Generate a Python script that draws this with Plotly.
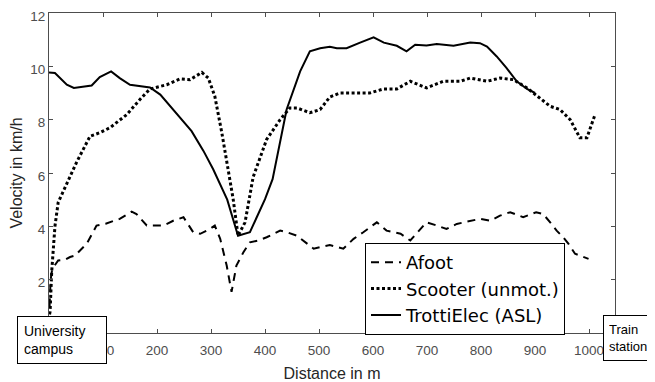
import plotly.graph_objects as go

# ---- data ----
trotti_x = [0, 11, 33, 46, 79, 94, 115, 131, 150, 187, 206, 230, 264, 286, 304, 330, 350, 372, 400, 414, 440, 465, 483, 502, 520, 533, 551, 576, 601, 620, 644, 662, 678, 699, 718, 749, 780, 798, 811, 829, 847, 866, 885, 900]
trotti_y = [9.77, 9.75, 9.31, 9.19, 9.28, 9.6, 9.81, 9.56, 9.31, 9.21, 8.94, 8.38, 7.57, 6.83, 6.14, 5.0, 3.65, 3.78, 5.02, 5.77, 8.38, 9.81, 10.56, 10.68, 10.73, 10.68, 10.68, 10.89, 11.09, 10.89, 10.77, 10.56, 10.81, 10.78, 10.84, 10.77, 10.89, 10.87, 10.74, 10.37, 9.94, 9.44, 9.15, 9.0]

scooter_x = [1, 2, 5, 11, 17, 33, 51, 76, 94, 113, 144, 168, 187, 218, 243, 261, 283, 295, 307, 320, 332, 341, 350, 363, 378, 403, 428, 446, 459, 483, 502, 520, 539, 594, 619, 644, 669, 699, 730, 761, 780, 811, 835, 860, 885, 909, 928, 946, 965, 983, 996, 1011]
scooter_y = [0.7, 0.8, 2.3, 4.0, 4.9, 5.58, 6.4, 7.38, 7.51, 7.7, 8.19, 8.75, 9.15, 9.31, 9.53, 9.5, 9.77, 9.56, 8.88, 7.51, 6.02, 5.02, 3.65, 4.15, 5.85, 7.26, 8.0, 8.44, 8.44, 8.26, 8.38, 8.85, 9.0, 9.0, 9.15, 9.15, 9.44, 9.19, 9.44, 9.44, 9.56, 9.44, 9.56, 9.5, 9.19, 8.82, 8.5, 8.38, 8.0, 7.32, 7.32, 8.19]

afoot_x = [1, 3, 6, 17, 30, 39, 48, 70, 88, 105, 119, 131, 153, 162, 181, 212, 230, 249, 267, 280, 298, 307, 317, 329, 338, 347, 360, 372, 388, 403, 428, 440, 459, 490, 502, 520, 545, 564, 582, 607, 625, 651, 669, 687, 699, 718, 736, 755, 780, 798, 817, 835, 854, 878, 902, 915, 928, 940, 952, 962, 974, 990, 999]
afoot_y = [1.0, 2.0, 2.4, 2.72, 2.75, 2.85, 2.9, 3.35, 4.03, 4.1, 4.2, 4.28, 4.55, 4.46, 4.03, 4.03, 4.21, 4.34, 3.78, 3.72, 3.9, 4.03, 3.53, 2.53, 1.54, 2.53, 3.03, 3.4, 3.47, 3.59, 3.84, 3.78, 3.65, 3.16, 3.22, 3.3, 3.16, 3.53, 3.78, 4.15, 3.84, 3.72, 3.47, 3.9, 4.15, 4.03, 3.9, 4.09, 4.21, 4.28, 4.21, 4.4, 4.53, 4.34, 4.53, 4.46, 4.15, 3.84, 3.59, 3.34, 2.97, 2.85, 2.78]

x_ticks = [100, 200, 300, 400, 500, 600, 700, 800, 900, 1000]
y_ticks = [2, 4, 6, 8, 10, 12]

FONT = "Liberation Sans, Arial, sans-serif"
LEG_FONT = "DejaVu Sans, Liberation Sans, sans-serif"

# page body has an 8px margin: figure occupies (8..655, 8..382) of the window
OFF = 8
W, H = 655 - OFF, 382 - OFF
L, R, T, B = 49 - OFF, 655 - 615, 13 - OFF, 382 - 333
PW, PH = W - L - R, H - T - B


def px_x(p):
    return (p - OFF - L) / PW


def px_y(p):
    return (H - B - (p - OFF)) / PH


fig = go.Figure()
fig.add_trace(go.Scatter(x=afoot_x, y=afoot_y, mode="lines", name="Afoot",
                         line=dict(color="black", width=2, dash="8px,6px")))
fig.add_trace(go.Scatter(x=scooter_x, y=scooter_y, mode="lines", name="Scooter (unmot.)",
                         line=dict(color="black", width=3, dash="3px,2.5px")))
fig.add_trace(go.Scatter(x=trotti_x, y=trotti_y, mode="lines", name="TrottiElec (ASL)",
                         line=dict(color="black", width=2)))

axis_common = dict(showline=True, linecolor="#4d4d4d", linewidth=1, mirror="ticks",
                   ticks="inside", ticklen=4, tickcolor="#4d4d4d", showgrid=False,
                   zeroline=False, automargin=False, ticklabeloverflow="allow",
                   tickfont=dict(family=FONT, size=13.5, color="#4d4d4d"))

fig.update_xaxes(range=[0, 1048], tickvals=x_ticks, ticktext=[str(v) for v in x_ticks],
                 ticklabelstandoff=5,
                 title=dict(text="Distance in m", font=dict(family=FONT, size=16, color="#262626"),
                            standoff=11),
                 **axis_common)
fig.update_yaxes(range=[0, 12], tickvals=y_ticks, ticktext=[str(v) for v in y_ticks],
                 ticklabelshift=3,
                 title=dict(text="Velocity in km/h", font=dict(family=FONT, size=16, color="#262626"),
                            standoff=3),
                 **axis_common)

fig.update_layout(
    template="none",
    width=W, height=H,
    margin=dict(l=L, r=R, t=T, b=B, autoexpand=False),
    plot_bgcolor="white", paper_bgcolor="white",
    font=dict(family=FONT, color="black"),
    showlegend=True,
    legend=dict(x=px_x(365), y=px_y(243), xanchor="left", yanchor="top",
                bgcolor="white", bordercolor="black", borderwidth=1,
                font=dict(family=LEG_FONT, size=18, color="black"),
                tracegroupgap=0, itemwidth=30),
)

fig.add_annotation(xref="paper", yref="paper", x=px_x(17), y=px_y(340),
                   xanchor="left", yanchor="middle", text="University<br>campus",
                   showarrow=False, align="left", width=76, height=34,
                   bgcolor="white", bordercolor="black", borderwidth=1, borderpad=6,
                   font=dict(family=FONT, size=14, color="black"))
fig.add_annotation(xref="paper", yref="paper", x=px_x(603), y=px_y(338),
                   xanchor="left", yanchor="middle", text="Train<br>station",
                   showarrow=False, align="left", width=44, height=34,
                   bgcolor="white", bordercolor="black", borderwidth=1, borderpad=5,
                   font=dict(family=FONT, size=13, color="black"))

fig.write_html("out.html")
